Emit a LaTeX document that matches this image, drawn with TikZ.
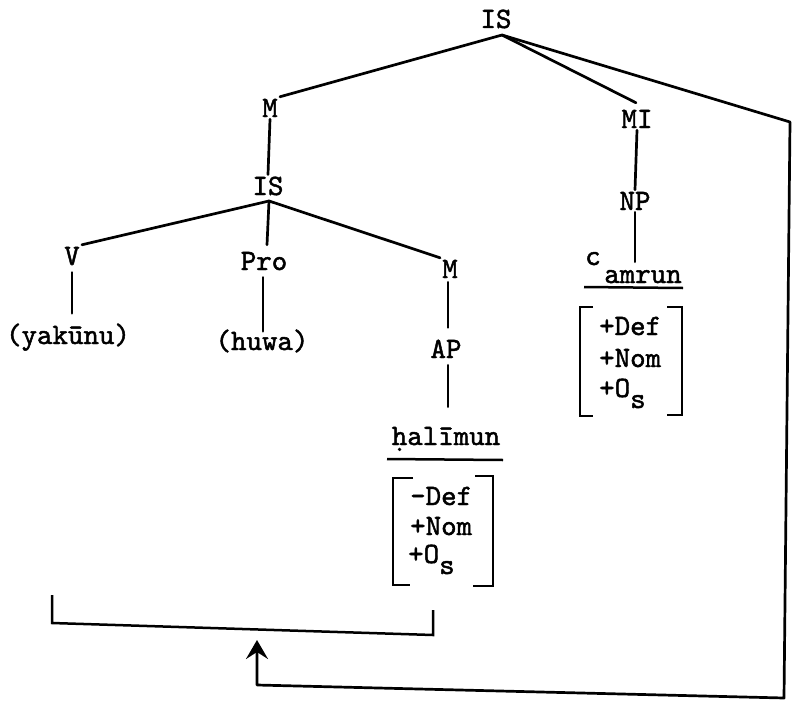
\documentclass[tikz,border=0pt]{standalone}
\usepackage{fontspec}
\newfontfamily\twfont{lmmono10-regular.otf}[FakeBold=1.6]
\usetikzlibrary{arrows.meta,calc}
\begin{document}
\begin{tikzpicture}[x=1pt,y=-1pt,
  lbl/.style={font=\twfont\bfseries\fontsize{29.5}{31}\selectfont, inner sep=2pt},
  edge/.style={line width=2.7pt, line cap=round, line join=round},
  brk/.style={line width=2.5pt, line join=miter}]
\useasboundingbox (0,0) rectangle (792,701);

% tree labels
\node[lbl,anchor=base] (IS1) at (496,28) {IS};
\node[lbl,anchor=base] (M1) at (270,117) {M};
\node[lbl,anchor=base] (MI) at (637,128) {MI};
\node[lbl,anchor=base] (IS2) at (268,195) {IS};
\node[lbl,anchor=base] (NP) at (635,210) {NP};
\node[lbl,anchor=base] (V) at (72,265) {V};
\node[lbl,anchor=base] (Pro) at (264,270) {Pro};
\node[lbl,anchor=base] (M2) at (450,278) {M};
\node[lbl,anchor=base] (yak) at (68,344) {(yak\=unu)};
\node[lbl,anchor=base] (huwa) at (262,350) {(huwa)};
\node[lbl,anchor=base] (AP) at (446,358) {AP};
\node[lbl,anchor=base] (hal) at (446,445) {\d{h}al\={\i}mun};
\node[lbl,anchor=base] (c) at (593,265) {c};
\node[lbl,anchor=base] (amr) at (643,283) {amrun};

% feature matrices
\node[lbl,anchor=base west] (f1) at (597,335) {+Def};
\node[lbl,anchor=base west] (f2) at (597,367) {+Nom};
\node[lbl,anchor=base west] (f3) at (597,397) {+O\raisebox{-11pt}{s}};
\node[lbl,anchor=base west] (g1) at (408,505) {-Def};
\node[lbl,anchor=base west] (g2) at (408,535) {+Nom};
\node[lbl,anchor=base west] (g3) at (406,563) {+O\raisebox{-11pt}{s}};

% vertices
\coordinate (IS1v) at (502,35);
\coordinate (IS2v) at (269,201);
\coordinate (rt) at (790,122);
\coordinate (rb) at (784,698);
\coordinate (ab) at (257,685);
\coordinate (at) at (257,640);

% edges
\draw[edge] (IS1v) -- (M1.north east);
\draw[edge] (IS1v) -- ($(MI.north)+(-1,-5)$);
\draw[edge] (M1.south) -- (IS2.north);
\draw[edge] (MI.south) -- (NP.north);
\draw[edge] (NP.south) -- ($(NP.south |- amr.north)+(0,-6)$);
\draw[edge] (IS2v) -- (V.north east);
\draw[edge] (IS2v) -- ($(Pro.north)+(3,-5)$);
\draw[edge] (IS2v) -- (M2.north west);
\draw[edge,shorten <=5pt,shorten >=8pt] (V.south) -- (V.south |- yak.north);
\draw[edge,shorten <=5pt] ($(Pro.south)+(-1,0)$) -- ($(Pro.south |- huwa.north)+(-1,4)$);
\draw[edge,shorten <=2pt,shorten >=10pt] ($(M2.south)+(-2,0)$) -- ($(M2.south |- AP.north)+(-2,0)$);
\draw[edge,shorten <=5pt,shorten >=18pt] ($(AP.south)+(2,0)$) -- ($(AP.south |- hal.north)+(2,0)$);
\draw[edge,-{Stealth[length=19pt,width=22pt,inset=7pt]}] (IS1v) -- (rt) -- (rb) -- (ab) -- (at);

% underlines
\draw[brk] (584,287) -- (683,288);
\draw[brk] (387,459) -- (503,460);

% brackets
\draw[brk] (593,307) -- (580,307) -- (580,416) -- (593,416);
\draw[brk] (667,307) -- (682,307) -- (682,415) -- (667,415);
\draw[brk] (413,478) -- (393,478) -- (393,585) -- (410,585);
\draw[brk] (475,476) -- (493,476) -- (493,586) -- (473,586);
\draw[brk] (52,595) -- (52,623) -- (433,635) -- (433,610);
\end{tikzpicture}
\end{document}
